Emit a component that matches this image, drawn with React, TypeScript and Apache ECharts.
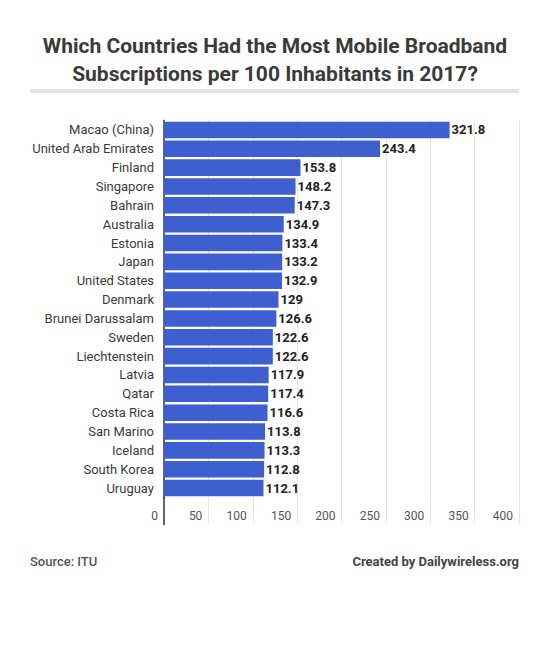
import React, { useEffect, useRef } from "react";
import * as echarts from "echarts";

const countries = [
  "Macao (China)",
  "United Arab Emirates",
  "Finland",
  "Singapore",
  "Bahrain",
  "Australia",
  "Estonia",
  "Japan",
  "United States",
  "Denmark",
  "Brunei Darussalam",
  "Sweden",
  "Liechtenstein",
  "Latvia",
  "Qatar",
  "Costa Rica",
  "San Marino",
  "Iceland",
  "South Korea",
  "Uruguay",
];
const subscriptions = [
  321.8, 243.4, 153.8, 148.2, 147.3, 134.9, 133.4, 133.2, 132.9, 129, 126.6,
  122.6, 122.6, 117.9, 117.4, 116.6, 113.8, 113.3, 112.8, 112.1,
];
const titleText =
  "Which Countries Had the Most Mobile Broadband\nSubscriptions per 100 Inhabitants in 2017?";
const sourceText = "Source: ITU";
const creditText = "Created by Dailywireless.org";

const FONT = "Roboto, 'Noto Sans', sans-serif";

export default function App() {
  const ref = useRef<HTMLDivElement>(null);
  useEffect(() => {
    if (!ref.current) return;
    const chart = echarts.init(ref.current, null, { renderer: "svg" });
    const gridLeft = 164;
    const gridWidth = 355;
    const splitLine = { show: true, lineStyle: { color: "#e6e6e6", width: 1 } };
    const axisLine = { show: true, lineStyle: { color: "#333333", width: 1.5 } };
    chart.setOption({
      animation: false,
      backgroundColor: "#ffffff",
      textStyle: { fontFamily: FONT },
      title: {
        text: titleText,
        left: "center",
        top: 27,
        textStyle: {
          fontFamily: FONT,
          fontSize: 21,
          fontWeight: "bold",
          color: "#3a3a3a",
          lineHeight: 28,
        },
      },
      graphic: [
        {
          type: "rect",
          shape: { x: 30, y: 89, width: 489, height: 4 },
          style: { fill: "#e4e4e4" },
        },
        {
          type: "text",
          x: 30,
          y: 561,
          style: {
            text: sourceText,
            fontFamily: FONT,
            fontSize: 13,
            fontWeight: 500,
            fill: "#555555",
            verticalAlign: "middle",
            align: "left",
          },
        },
        {
          type: "text",
          x: 519,
          y: 561,
          style: {
            text: creditText,
            fontFamily: FONT,
            fontSize: 13,
            fontWeight: "bold",
            fill: "#444444",
            verticalAlign: "middle",
            align: "right",
          },
        },
      ],
      grid: [
        { left: gridLeft, width: gridWidth, top: 120.5, height: 377 },
        { left: gridLeft, width: gridWidth, top: 497.5, height: 27 },
      ],
      xAxis: [
        {
          gridIndex: 0,
          type: "value",
          min: 0,
          max: 400,
          interval: 50,
          axisLabel: { show: false },
          axisLine: { show: false },
          axisTick: { show: false },
          splitLine,
        },
        {
          gridIndex: 1,
          type: "value",
          min: 0,
          max: 400,
          interval: 50,
          axisLine: { show: false },
          axisTick: { show: false },
          splitLine,
          axisLabel: {
            inside: true,
            margin: 3,
            align: "right",
            padding: [0, 6, 0, 0],
            fontFamily: FONT,
            fontSize: 12,
            color: "#555555",
          },
        },
      ],
      yAxis: [
        {
          gridIndex: 0,
          type: "category",
          inverse: true,
          data: countries,
          axisLine,
          axisTick: { show: false },
          axisLabel: {
            margin: 10,
            fontFamily: FONT,
            fontSize: 13,
            fontWeight: "normal",
            color: "#3a3a3a",
          },
        },
        {
          gridIndex: 1,
          type: "category",
          data: [""],
          axisLine,
          axisTick: { show: false },
          axisLabel: { show: false },
        },
      ],
      series: [
        {
          type: "bar",
          xAxisIndex: 0,
          yAxisIndex: 0,
          data: subscriptions,
          barCategoryGap: "12%",
          itemStyle: { color: "#3d5fcf" },
          label: {
            show: true,
            position: "right",
            distance: 2,
            fontFamily: FONT,
            fontSize: 13,
            fontWeight: "bold",
            color: "#222222",
          },
        },
      ],
    });
    return () => chart.dispose();
  }, []);
  return (
    <div
      ref={ref}
      style={{ position: "absolute", left: 0, top: 0, width: 550, height: 649 }}
    />
  );
}
